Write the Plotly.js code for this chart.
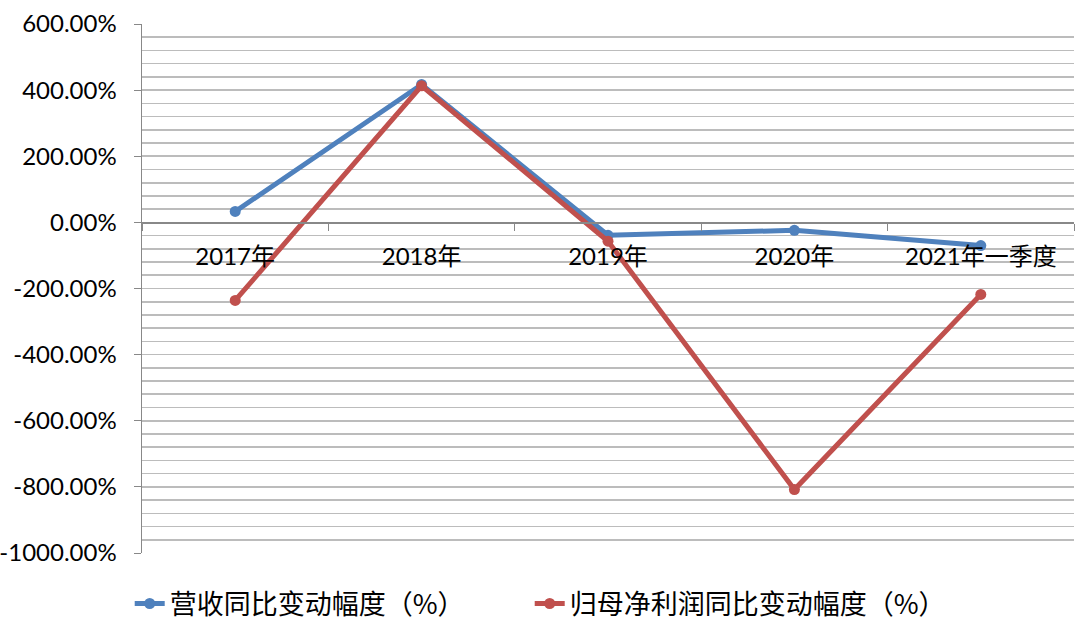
<!DOCTYPE html>
<html><head><meta charset="utf-8">
<script src="https://cdn.plot.ly/plotly-3.0.1.min.js"></script>
<style>html,body{margin:0;padding:0;background:#fff}#c{width:1080px;height:634px}</style>
</head><body><div id="c"></div>
<script>
const categories = ["2017年","2018年","2019年","2020年","2021年一季度"];
const revenueChange = [33, 417, -39, -24, -70];
const netProfitChange = [-236, 413, -57, -808, -218];
const seriesNames = ["营收同比变动幅度（%）","归母净利润同比变动幅度（%）"];
const yTickValues = [-1000, -800, -600, -400, -200, 0, 200, 400, 600];
const yTickLabels = yTickValues.map(v => v.toFixed(2) + "%");

const font = "Lato, 'Noto Sans CJK SC', sans-serif";
const traces = [
  {x: categories, y: revenueChange, name: seriesNames[0], type: "scatter", mode: "lines+markers",
   line: {color: "#4F81BD", width: 5}, marker: {color: "#4F81BD", size: 11}},
  {x: categories, y: netProfitChange, name: seriesNames[1], type: "scatter", mode: "lines+markers",
   line: {color: "#C0504D", width: 5}, marker: {color: "#C0504D", size: 11}}
];
const layout = {
  width: 1080, height: 634,
  margin: {l: 142, r: 6, t: 24, b: 81, autoexpand: false},
  paper_bgcolor: "#fff", plot_bgcolor: "#fff",
  font: {family: font, color: "#000"},
  showlegend: true,
  legend: {orientation: "h", x: 0.416, xanchor: "center", y: -0.05, yanchor: "top",
           font: {size: 27, family: "'Noto Sans CJK SC', sans-serif"}, entrywidth: 355, entrywidthmode: "pixels"},
  xaxis: {type: "category", range: [-0.5, 4.5], anchor: "free", position: 0.625,
          showline: true, linecolor: "#888", linewidth: 1.5, showgrid: false,
          ticks: "outside", ticklen: 7, tickcolor: "#888", tickson: "boundaries",
          ticklabelstandoff: 12, tickangle: 0, automargin: false,
          tickfont: {size: 24, family: font}, fixedrange: true},
  yaxis: {range: [-1000, 600], tickmode: "array", tickvals: yTickValues, ticktext: yTickLabels,
          showline: true, linecolor: "#888", linewidth: 1.5, automargin: false,
          ticks: "outside", ticklen: 7, tickcolor: "#888", ticklabelstandoff: 12,
          showgrid: true, gridcolor: "#bcbcbc", gridwidth: 1.6,
          minor: {dtick: 40, tick0: 0, showgrid: true, gridcolor: "#bcbcbc", gridwidth: 1.6},
          zeroline: true, zerolinecolor: "#888", zerolinewidth: 1.5,
          tickfont: {size: 24, family: font}, fixedrange: true}
};
Plotly.newPlot("c", traces, layout, {displayModeBar: false, staticPlot: true});
</script></body></html>
